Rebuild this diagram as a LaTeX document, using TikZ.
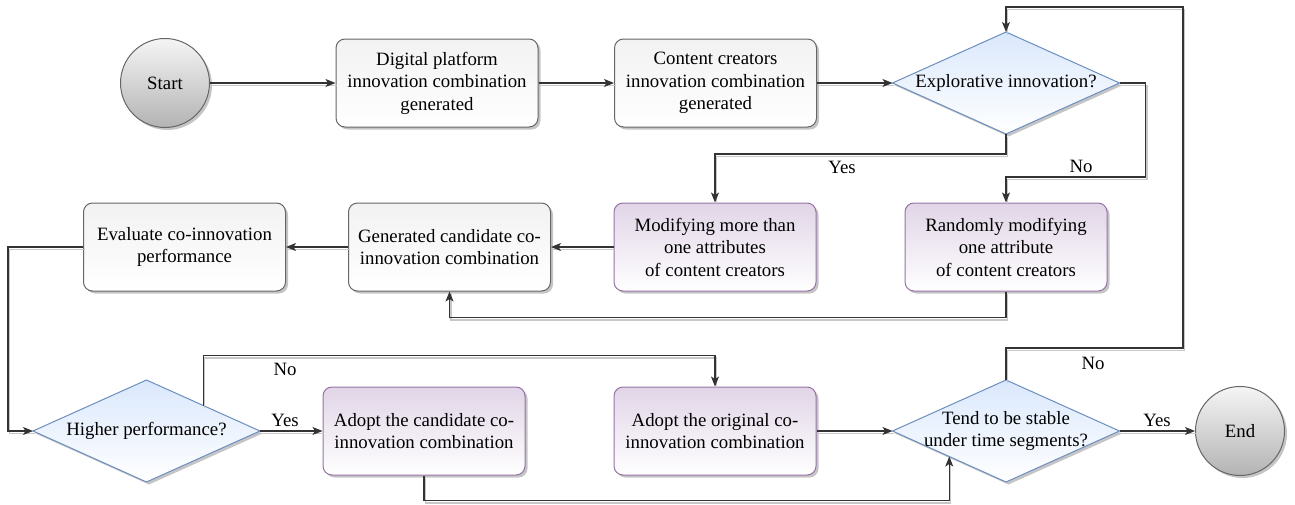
\documentclass[tikz,border=0pt]{standalone}
\usepackage{fontspec}
\setmainfont{LiberationSerif}[Extension=.ttf,UprightFont=*-Regular,BoldFont=*-Bold,ItalicFont=*-Italic]
\usetikzlibrary{shapes.geometric,arrows.meta,shadows,calc}
\definecolor{greyline}{HTML}{666666}
\definecolor{greytop}{HTML}{F2F2F2}
\definecolor{purpleline}{HTML}{9673A6}
\definecolor{purpletop}{HTML}{E1D5E7}
\definecolor{blueline}{HTML}{6C8EBF}
\definecolor{bluetop}{HTML}{DAE8FC}
\definecolor{circtop}{HTML}{F5F5F5}
\definecolor{circbot}{HTML}{B3B3B3}
\begin{document}
\begin{tikzpicture}[x=1pt,y=-1pt,
  font=\rmfamily\fontsize{18.8}{22.5}\selectfont,
  myshadow/.style={drop shadow={shadow xshift=2.5pt,shadow yshift=-2.5pt,fill=black!45,opacity=0.5}},
  greybox/.style={rectangle,rounded corners=9pt,draw=greyline,line width=1pt,
    top color=greytop,bottom color=white,minimum width=202pt,minimum height=88pt,
    inner sep=2pt,align=center,myshadow},
  purplebox/.style={greybox,draw=purpleline,top color=purpletop,bottom color=white},
  decision/.style={diamond,draw=blueline,line width=1pt,top color=bluetop,bottom color=white,
    minimum width=227pt,minimum height=102pt,inner sep=0pt,outer sep=0pt,myshadow},
  terminal/.style={circle,draw=greyline,line width=1pt,top color=circtop,bottom color=circbot,
    minimum size=89pt,inner sep=0pt,myshadow},
  conn/.style={draw=black!80,line width=1.1pt,-{Stealth[length=10pt,width=8pt,inset=2.5pt]},
    preaction={draw=black!22,arrows=-,line width=1.1pt,transform canvas={shift={(1.5pt,-2.5pt)}}}},
  lbl/.style={inner sep=1pt}
]
\useasboundingbox (0,0) rectangle (1295,504);

% nodes
\node[terminal] (start) at (165,83) {Start};
\node[greybox] (dig) at (437,83) {Digital platform\\innovation combination\\generated};
\node[greybox] (con) at (715.5,83) {Content creators\\innovation combination\\generated};
\node[decision,label={[align=center]center:Explorative innovation?}] (exp) at (1006,83) {};
\node[purplebox] (mod) at (715,247) {Modifying more than\\one attributes\\of content creators};
\node[purplebox] (ran) at (1006,247) {Randomly modifying\\one attribute\\of content creators};
\node[greybox] (gen) at (449.5,247) {Generated candidate co-\\innovation combination};
\node[greybox] (eva) at (184.5,247) {Evaluate co-innovation\\performance};
\node[decision,label={[align=center]center:Higher performance?}] (hp) at (146.5,431) {};
\node[purplebox] (adc) at (424,431) {Adopt the candidate co-\\innovation combination};
\node[purplebox] (ado) at (715,431) {Adopt the original co-\\innovation combination};
\node[decision,label={[align=center]center:Tend to be stable\\under time segments?}] (tend) at (1006,431) {};
\node[terminal] (end) at (1240,431) {End};
\coordinate (loopR) at (1183,7);

% connectors
\draw[conn] (start) -- (dig);
\draw[conn] (dig) -- (con);
\draw[conn] (con.east) -- (exp.west);
\draw[conn] (exp.south) -- ++(0,20) -| (mod.north);
\draw[conn] (exp.east) -- ++(26,0) -- ++(0,94) -| (ran.north);
\draw[conn] (ran.south) -- ++(0,26) -| (gen.south);
\draw[conn] (mod.west) -- (gen.east);
\draw[conn] (gen.west) -- (eva.east);
\draw[conn] (eva.west) -- ++(-75,0) |- (hp.west);
\draw[conn] (hp.east) -- (adc.west);
\draw[conn] (hp.north east) -- ++(0,-50) -| (ado.north);
\draw[conn] (adc.south) -- ++(0,25) -| (tend.south west);
\draw[conn] (ado.east) -- (tend.west);
\draw[conn] (tend.north) -- ++(0,-32) -| (loopR) -| (exp.north);
\draw[conn] (tend.east) -- (end);

% labels
\node[lbl] (yes1) at (842,167) {Yes};
\node[lbl] (no1) at (1081,166) {No};
\node[lbl] (no2) at (285,369) {No};
\node[lbl] (yes2) at (285,420) {Yes};
\node[lbl] (no3) at (1093,363) {No};
\node[lbl] (yes3) at (1157,420) {Yes};
\end{tikzpicture}
\end{document}
